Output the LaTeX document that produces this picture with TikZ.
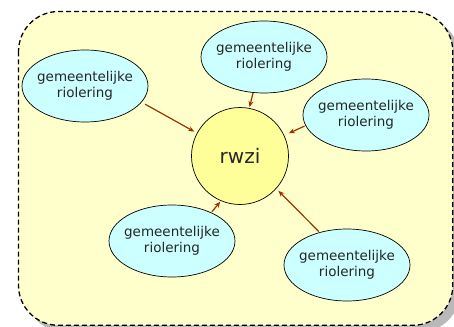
\documentclass[tikz,border=0pt]{standalone}
\usepackage{fontspec}
\setmainfont{DejaVu Sans}
\usetikzlibrary{shapes.geometric,arrows.meta}
\definecolor{bgyellow}{HTML}{FFFFCC}
\definecolor{cyanfill}{HTML}{CCFFFF}
\definecolor{circfill}{HTML}{FFFF99}
\definecolor{arrowcol}{HTML}{993300}
\definecolor{txt}{HTML}{262626}
\tikzset{
  sewer/.style={ellipse, draw=black, line width=0.7pt, fill=cyanfill,
    minimum width=126pt, minimum height=72pt, inner xsep=-6pt, inner ysep=0pt, align=center,
    text=txt, font=\fontsize{13.5}{16}\selectfont},
  plant/.style={circle, draw=black, line width=0.7pt, fill=circfill,
    minimum size=97pt, inner sep=0pt, text=txt, font=\fontsize{20}{24}\selectfont},
  flow/.style={draw=arrowcol, line width=1.2pt, -{Stealth[length=6pt,width=5pt]}},
  frame/.style={draw=black, line width=1.3pt, dash pattern=on 5pt off 3pt, rounded corners=40pt}
}
\begin{document}
\begin{tikzpicture}[x=1pt,y=-1pt]
\useasboundingbox (0,0) rectangle (454,326);
\fill[gray!55, rounded corners=40pt] (25,18) rectangle (460,332);
\fill[bgyellow, rounded corners=40pt] (18.5,11.5) rectangle (452.8,325.3);
\path[frame] (18.5,11.5) rectangle (452.8,325.3);

\node[plant] (c) at (240,156) {rwzi};
\node[sewer] (e1) at (85,86) {gemeentelijke\\riolering};
\node[sewer] (e2) at (264,57) {gemeentelijke\\riolering};
\node[sewer] (e3) at (366,115) {gemeentelijke\\riolering};
\node[sewer] (e4) at (172,241) {gemeentelijke\\riolering};
\node[sewer] (e5) at (347,265) {gemeentelijke\\riolering};

\draw[flow, shorten <=4pt, shorten >=3pt] (e1.-16) -- (c.152);
\draw[flow, shorten <=0pt, shorten >=1pt] (e2.-107) -- (c.79);
\draw[flow, shorten <=1pt, shorten >=5pt] (e3.190) -- (c.25);
\draw[flow, shorten <=1pt, shorten >=1pt] (e4.36) -- (c.-113);
\draw[flow, shorten <=1pt, shorten >=3pt] (e5.130) -- (c.-42);
\end{tikzpicture}
\end{document}
